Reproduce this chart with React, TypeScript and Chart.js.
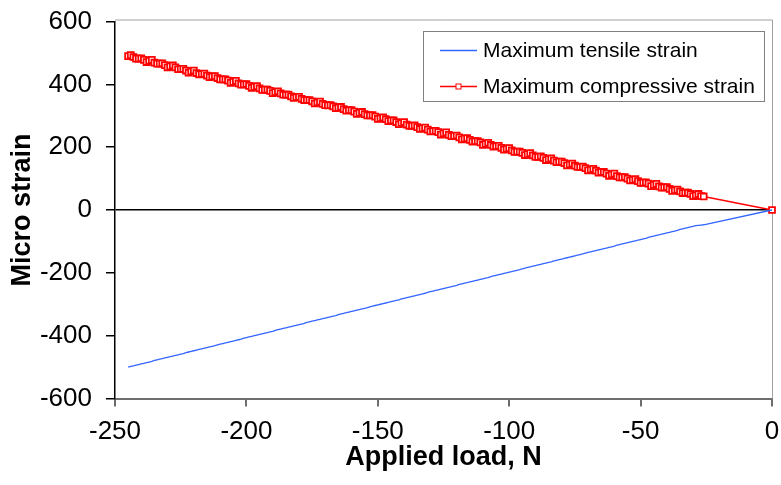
import React, { useEffect, useRef } from "react";
import { Chart, registerables } from "chart.js";

Chart.register(...registerables);

const SERIES_NAMES = ["Maximum tensile strain", "Maximum compressive strain"];
const X_TITLE = "Applied load, N";
const Y_TITLE = "Micro strain";

const LOADS = [
  -245, -244, -243, -242, -241, -240, -239, -238, -237, -236,
  -235, -234, -233, -232, -231, -230, -229, -228, -227, -226,
  -225, -224, -223, -222, -221, -220, -219, -218, -217, -216,
  -215, -214, -213, -212, -211, -210, -209, -208, -207, -206,
  -205, -204, -203, -202, -201, -200, -199, -198, -197, -196,
  -195, -194, -193, -192, -191, -190, -189, -188, -187, -186,
  -185, -184, -183, -182, -181, -180, -179, -178, -177, -176,
  -175, -174, -173, -172, -171, -170, -169, -168, -167, -166,
  -165, -164, -163, -162, -161, -160, -159, -158, -157, -156,
  -155, -154, -153, -152, -151, -150, -149, -148, -147, -146,
  -145, -144, -143, -142, -141, -140, -139, -138, -137, -136,
  -135, -134, -133, -132, -131, -130, -129, -128, -127, -126,
  -125, -124, -123, -122, -121, -120, -119, -118, -117, -116,
  -115, -114, -113, -112, -111, -110, -109, -108, -107, -106,
  -105, -104, -103, -102, -101, -100, -99, -98, -97, -96,
  -95, -94, -93, -92, -91, -90, -89, -88, -87, -86,
  -85, -84, -83, -82, -81, -80, -79, -78, -77, -76,
  -75, -74, -73, -72, -71, -70, -69, -68, -67, -66,
  -65, -64, -63, -62, -61, -60, -59, -58, -57, -56,
  -55, -54, -53, -52, -51, -50, -49, -48, -47, -46,
  -45, -44, -43, -42, -41, -40, -39, -38, -37, -36,
  -35, -34, -33, -32, -31, -30, -29, -28, -27, -26,
  0,
];

const TENSILE = [
  -500, -498, -496, -494, -492, -490, -488, -486, -484, -482,
  -479, -477, -475, -473, -471, -469, -467, -465, -463, -461,
  -459, -457, -454, -452, -450, -448, -446, -444, -442, -440,
  -438, -436, -434, -432, -429, -427, -425, -423, -421, -419,
  -417, -415, -413, -411, -408, -406, -404, -402, -400, -398,
  -396, -394, -392, -390, -388, -386, -383, -381, -379, -377,
  -375, -373, -371, -369, -367, -365, -363, -361, -358, -356,
  -354, -352, -350, -348, -346, -344, -342, -340, -338, -336,
  -333, -331, -329, -327, -325, -323, -321, -319, -317, -315,
  -313, -311, -308, -306, -304, -302, -300, -298, -296, -294,
  -292, -290, -288, -286, -283, -281, -279, -277, -275, -273,
  -271, -269, -267, -265, -262, -260, -258, -256, -254, -252,
  -250, -248, -246, -244, -242, -240, -237, -235, -233, -231,
  -229, -227, -225, -223, -221, -219, -217, -215, -212, -210,
  -208, -206, -204, -202, -200, -198, -196, -194, -192, -190,
  -187, -185, -183, -181, -179, -177, -175, -173, -171, -169,
  -167, -165, -162, -160, -158, -156, -154, -152, -150, -148,
  -146, -144, -142, -140, -137, -135, -133, -131, -129, -127,
  -125, -123, -121, -119, -117, -115, -112, -110, -108, -106,
  -104, -102, -100, -98, -96, -94, -92, -90, -87, -85,
  -83, -81, -79, -77, -75, -73, -71, -69, -67, -65,
  -62, -60, -58, -56, -54, -52, -50, -49, -48, -47,
  0,
];

const COMPRESSIVE = [
  490, 493, 487, 482, 482, 483, 478, 471, 475, 478,
  469, 466, 466, 467, 461, 454, 457, 460, 454, 448,
  449, 449, 444, 437, 441, 444, 436, 432, 433, 434,
  428, 423, 425, 426, 420, 416, 416, 416, 412, 405,
  408, 411, 403, 399, 400, 401, 395, 389, 392, 394,
  387, 382, 383, 383, 379, 372, 375, 378, 371, 367,
  367, 367, 362, 357, 359, 360, 354, 350, 350, 350,
  346, 339, 342, 345, 338, 334, 333, 334, 330, 324,
  326, 328, 321, 316, 318, 318, 313, 306, 309, 312,
  305, 301, 301, 302, 297, 290, 292, 295, 289, 283,
  285, 285, 280, 273, 277, 280, 272, 268, 268, 269,
  264, 258, 260, 262, 256, 250, 251, 252, 248, 240,
  244, 247, 239, 235, 236, 237, 231, 225, 227, 229,
  223, 218, 219, 219, 215, 207, 210, 214, 207, 202,
  203, 204, 198, 192, 195, 197, 190, 185, 186, 186,
  182, 175, 178, 181, 174, 169, 169, 171, 166, 159,
  162, 164, 157, 152, 154, 154, 149, 142, 145, 148,
  141, 137, 137, 138, 133, 126, 128, 131, 125, 119,
  121, 121, 116, 109, 113, 116, 108, 104, 104, 105,
  100, 94, 96, 98, 92, 86, 87, 88, 84, 76,
  80, 83, 75, 71, 72, 73, 67, 61, 63, 65,
  59, 54, 55, 55, 51, 44, 47, 51, 44, 43,
  0,
];

const X_MIN = -250;
const X_MAX = 0;
const X_STEP = 50;
const Y_MIN = -600;
const Y_MAX = 600;
const Y_STEP = 200;

const BLUE = "#3366FF";
const RED = "#FF0000";
const FONT = "'Liberation Sans', Arial, sans-serif";

const framePlugin = {
  id: "frame",
  beforeDatasetsDraw(chart: any) {
    const { ctx, chartArea } = chart;
    ctx.save();
    ctx.strokeStyle = "#a0a0a0";
    ctx.lineWidth = 1;
    ctx.beginPath();
    ctx.moveTo(chartArea.left, chartArea.top - 1.5);
    ctx.lineTo(chartArea.right + 0.5, chartArea.top - 1.5);
    ctx.lineTo(chartArea.right + 0.5, chartArea.bottom);
    ctx.stroke();
    ctx.restore();
  },
};

const legendPlugin = {
  id: "boxLegend",
  afterDraw(chart: any) {
    const { ctx } = chart;
    const bx = 423.5, by = 31.5, bw = 341, bh = 70;
    ctx.save();
    ctx.fillStyle = "#ffffff";
    ctx.fillRect(bx, by, bw, bh);
    ctx.strokeStyle = "#808080";
    ctx.lineWidth = 1;
    ctx.strokeRect(bx, by, bw, bh);
    const rows = [50, 86];
    const colors = [BLUE, RED];
    ctx.font = `21px ${FONT}`;
    ctx.textBaseline = "middle";
    ctx.textAlign = "left";
    SERIES_NAMES.forEach((name, i) => {
      const y = rows[i];
      ctx.strokeStyle = colors[i];
      ctx.lineWidth = 1.3;
      ctx.beginPath();
      ctx.moveTo(440, y + 0.5);
      ctx.lineTo(477, y + 0.5);
      ctx.stroke();
      if (i === 1) {
        ctx.fillStyle = "#ffffff";
        ctx.fillRect(456, y - 2, 5, 5);
        ctx.lineWidth = 1;
        ctx.strokeRect(456, y - 2, 5, 5);
      }
      ctx.fillStyle = "#000000";
      ctx.fillText(name, 483, y + 1);
    });
    ctx.restore();
  },
};

const zeroPad = (s: any) => {
  s.paddingTop = 0;
  s.paddingBottom = 0;
  s.paddingLeft = 0;
  s.paddingRight = 0;
};

export default function App() {
  const ref = useRef<HTMLCanvasElement | null>(null);

  useEffect(() => {
    if (!ref.current) return;
    const chart = new Chart(ref.current, {
      type: "line",
      data: {
        datasets: [
          {
            label: SERIES_NAMES[0],
            data: LOADS.map((x, i) => ({ x, y: TENSILE[i] })),
            borderColor: BLUE,
            borderWidth: 1.3,
            pointRadius: 0,
            fill: false,
            tension: 0,
          },
          {
            label: SERIES_NAMES[1],
            data: LOADS.map((x, i) => ({ x, y: COMPRESSIVE[i] })),
            borderColor: RED,
            borderWidth: 1.3,
            pointStyle: "rect",
            pointRadius: 4.2,
            pointBorderWidth: 1.8,
            pointBorderColor: RED,
            pointBackgroundColor: "#ffffff",
            fill: false,
            tension: 0,
            clip: false as any,
          },
        ],
      },
      options: {
        animation: false,
        responsive: false,
        events: [],
        layout: { autoPadding: false, padding: { top: 21.5, right: 9, left: 0, bottom: 0 } } as any,
        plugins: {
          legend: { display: false },
          tooltip: { enabled: false },
        },
        scales: {
          x: {
            type: "linear",
            min: X_MIN,
            max: X_MAX,
            afterFit: (s: any) => {
              s.height = 86.5;
              zeroPad(s);
            },
            ticks: {
              stepSize: X_STEP,
              color: "#000",
              font: { family: FONT, size: 26 },
              padding: 10,
              maxRotation: 0,
            },
            grid: {
              drawOnChartArea: false,
              drawTicks: true,
              tickLength: 8,
              tickColor: "#6e6e6e",
              lineWidth: 2,
            },
            border: { display: true, color: "#6e6e6e", width: 2 },
            title: {
              display: true,
              text: X_TITLE,
              color: "#000",
              font: { family: FONT, size: 27, weight: "bold" },
              padding: { top: 0, bottom: 11 },
            },
          },
          y: {
            type: "linear",
            min: Y_MIN,
            max: Y_MAX,
            afterFit: (s: any) => {
              s.width = 115;
              zeroPad(s);
            },
            ticks: {
              stepSize: Y_STEP,
              color: "#000",
              font: { family: FONT, size: 26 },
              padding: 14,
            },
            grid: {
              drawOnChartArea: true,
              drawTicks: true,
              tickLength: 9,
              color: (c: any) => (c.tick && c.tick.value === 0 ? "#000000" : "rgba(0,0,0,0)"),
              tickColor: "#000000",
              lineWidth: 1.5,
            },
            border: { display: true, color: "#000000", width: 1.5 },
            title: {
              display: true,
              text: Y_TITLE,
              color: "#000",
              font: { family: FONT, size: 27, weight: "bold" },
              padding: { top: 6, bottom: 0 },
            },
          },
        },
      },
      plugins: [framePlugin, legendPlugin],
    });
    return () => chart.destroy();
  }, []);

  return (
    <div style={{ position: "absolute", left: 0, top: 0, width: 781, height: 485, background: "#fff" }}>
      <canvas ref={ref} width={781} height={485} style={{ display: "block" }} />
    </div>
  );
}
